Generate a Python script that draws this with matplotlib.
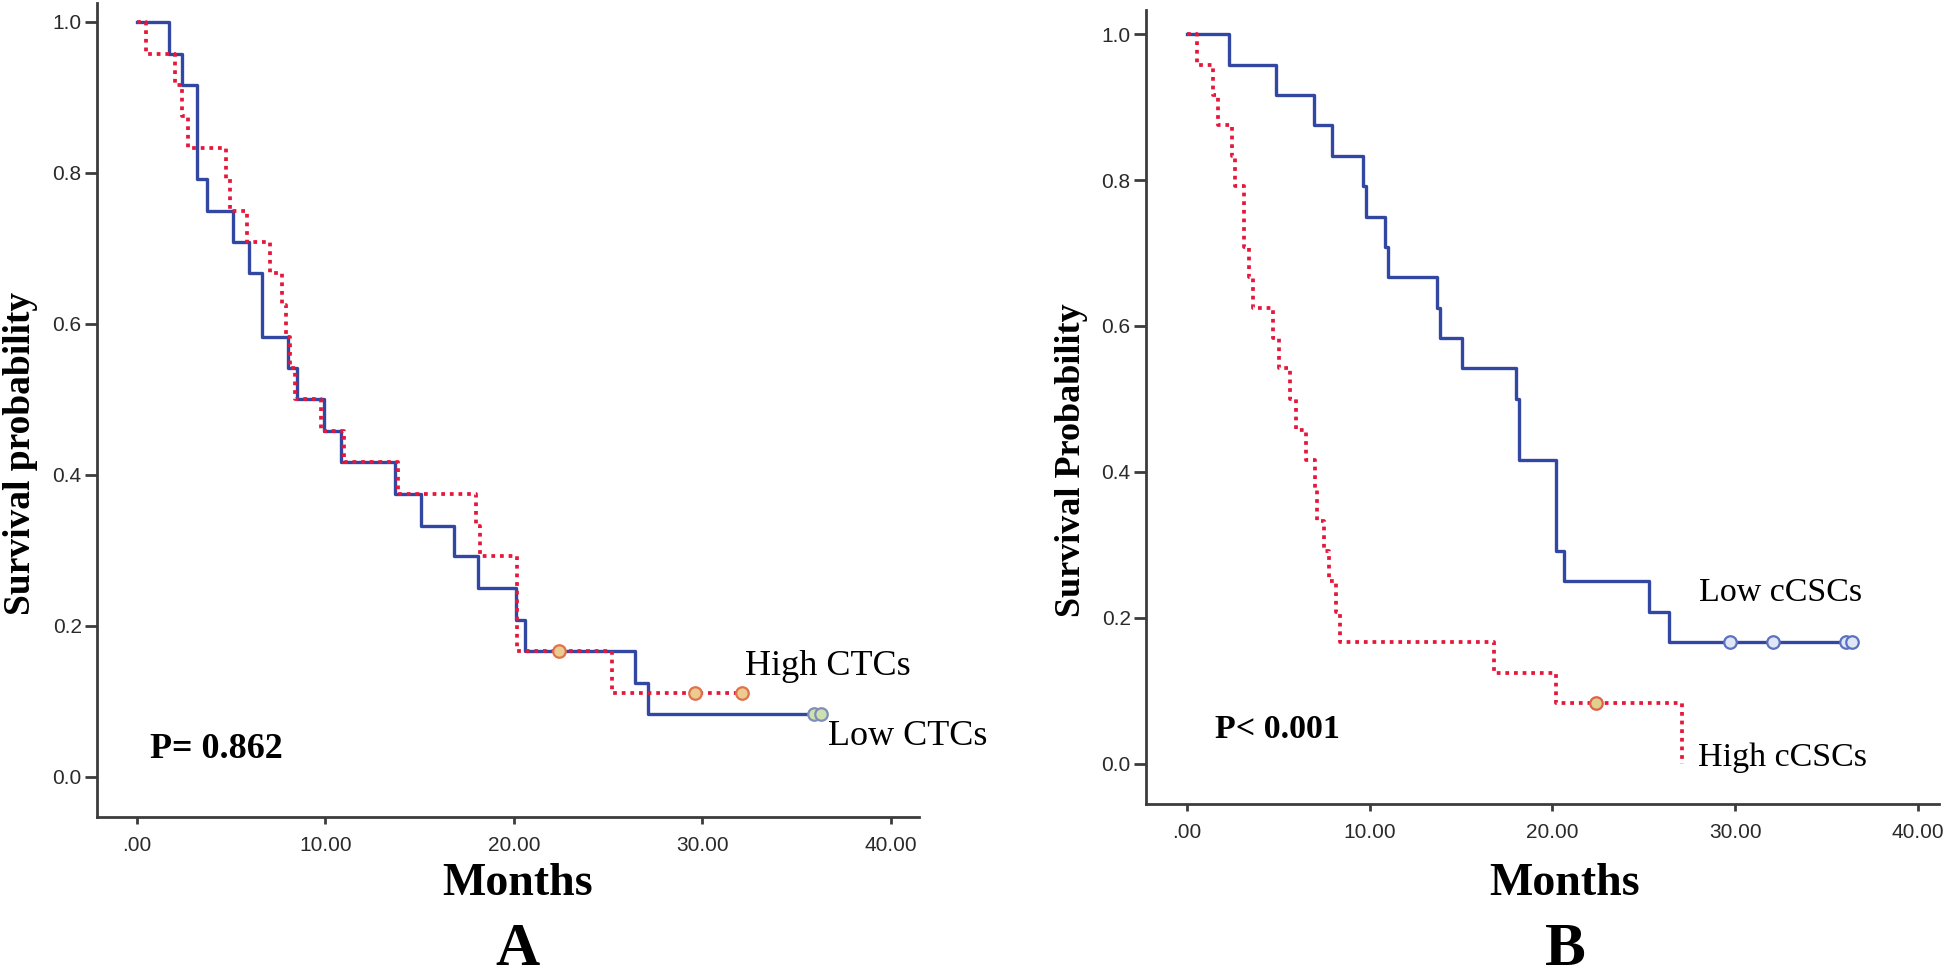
import numpy as np
import matplotlib.pyplot as plt

# Panel A - CTCs
a_low_t = [0, 1.7, 2.4, 3.2, 3.7, 5.1, 5.95, 6.65, 8.0, 8.5, 9.9, 10.8, 13.7,
           15.05, 16.8, 18.1, 20.1, 20.6, 26.4, 27.1, 36.3]
a_low_s = [1.0, 0.958, 0.917, 0.792, 0.75, 0.708, 0.667, 0.583, 0.542, 0.5,
           0.458, 0.417, 0.375, 0.333, 0.292, 0.25, 0.208, 0.167, 0.125, 0.083, 0.083]
a_low_cens_t = [35.9, 36.3]
a_low_cens_s = [0.083, 0.083]

a_high_t = [0, 0.5, 2.0, 2.4, 2.7, 4.75, 4.93, 5.82, 7.05, 7.7, 7.9, 8.1, 8.36,
            9.77, 11.0, 13.85, 18.0, 18.2, 20.16, 25.2, 32.1]
a_high_s = [1.0, 0.958, 0.917, 0.875, 0.833, 0.792, 0.75, 0.708, 0.667, 0.625,
            0.583, 0.542, 0.5, 0.458, 0.417, 0.375, 0.333, 0.292, 0.167, 0.111, 0.111]
a_high_cens_t = [22.4, 29.6, 32.1]
a_high_cens_s = [0.167, 0.111, 0.111]

# Panel B - cCSCs
b_low_t = [0, 2.3, 4.87, 6.97, 7.95, 9.65, 9.78, 10.84, 11.0, 13.7, 13.85,
           15.05, 18.0, 18.17, 20.2, 20.65, 25.3, 26.4, 36.4]
b_low_s = [1.0, 0.958, 0.917, 0.875, 0.833, 0.792, 0.75, 0.708, 0.667, 0.625,
           0.583, 0.542, 0.5, 0.417, 0.292, 0.25, 0.208, 0.167, 0.167]
b_low_cens_t = [29.7, 32.1, 36.05, 36.4]
b_low_cens_s = [0.167, 0.167, 0.167, 0.167]

b_high_t = [0, 0.56, 1.42, 1.7, 2.45, 2.65, 3.1, 3.12, 3.37, 3.62, 4.7, 5.05,
            5.64, 5.97, 6.5, 7.0, 7.1, 7.5, 7.8, 8.15, 8.4, 16.83, 20.2, 27.1]
b_high_s = [1.0, 0.958, 0.917, 0.875, 0.833, 0.792, 0.75, 0.708, 0.667, 0.625,
            0.583, 0.542, 0.5, 0.458, 0.417, 0.375, 0.333, 0.292, 0.25, 0.208,
            0.167, 0.125, 0.083, 0.0]
b_high_cens_t = [22.4]
b_high_cens_s = [0.083]

x_ticks = [0, 10, 20, 30, 40]
x_labels = [".00", "10.00", "20.00", "30.00", "40.00"]
y_ticks = [0.0, 0.2, 0.4, 0.6, 0.8, 1.0]
y_labels = ["0.0", "0.2", "0.4", "0.6", "0.8", "1.0"]

BLUE = "#3247a2"
RED = "#e5173b"
SERIF = "Liberation Serif"
SANS = "Liberation Sans"

W, H = 1946, 980
fig = plt.figure(figsize=(W / 100, H / 100), dpi=100)


def make_axes(left, top, right, bottom):
	return fig.add_axes([left / W, 1 - bottom / H, (right - left) / W, (bottom - top) / H])


def style_axes(ax):
	for s in ["top", "right"]:
		ax.spines[s].set_visible(False)
	for s in ["left", "bottom"]:
		ax.spines[s].set_color("#3c3c3c")
		ax.spines[s].set_linewidth(2.0)
	ax.set_xticks(x_ticks)
	ax.set_xticklabels(x_labels, family=SANS, fontsize=15, color="#2a2a2a")
	ax.set_yticks(y_ticks)
	ax.set_yticklabels(y_labels, family=SANS, fontsize=15, color="#2a2a2a")
	ax.tick_params(axis="x", length=5, width=2, color="#3c3c3c", pad=9)
	ax.tick_params(axis="y", length=9, width=2, color="#3c3c3c", pad=2)


def km(ax, t, s, ct, cs, color, dotted, face, edge):
	if dotted:
		ax.plot(t, s, drawstyle="steps-post", color=color, lw=2.7,
				linestyle=(0, (1, 1.3)), zorder=3)
	else:
		ax.plot(t, s, drawstyle="steps-post", color=color, lw=2.4, zorder=2)
	ax.plot(ct, cs, "o", ms=9, mfc=face, mec=edge, mew=1.6, zorder=4)


# Panel A
axA = make_axes(97, 3, 919, 817)
axA.set_xlim(-2.12, 41.49)
axA.set_ylim(-0.053, 1.025)
km(axA, a_low_t, a_low_s, a_low_cens_t, a_low_cens_s, BLUE, False, "#cfe0b0", "#7f8db8")
km(axA, a_high_t, a_high_s, a_high_cens_t, a_high_cens_s, RED, True, "#ebcb90", "#e2704a")
style_axes(axA)
axA.text(0.69, 0.036, "P= 0.862", family=SERIF, fontweight="bold", fontsize=26, va="center")
axA.text(32.25, 0.146, "High CTCs", family=SERIF, fontsize=26, va="center")
axA.text(36.66, 0.053, "Low CTCs", family=SERIF, fontsize=26, va="center")

# Panel B
axB = make_axes(1146, 10, 1939, 804)
axB.set_xlim(-2.24, 41.16)
axB.set_ylim(-0.055, 1.033)
km(axB, b_low_t, b_low_s, b_low_cens_t, b_low_cens_s, BLUE, False, "#dfe6f5", "#5a70c0")
km(axB, b_high_t, b_high_s, b_high_cens_t, b_high_cens_s, RED, True, "#dcd28e", "#e2604a")
style_axes(axB)
axB.text(1.53, 0.047, "P< 0.001", family=SERIF, fontweight="bold", fontsize=24.5, va="center")
axB.text(28.0, 0.234, "Low cCSCs", family=SERIF, fontsize=24.5, va="center")
axB.text(27.97, 0.008, "High cCSCs", family=SERIF, fontsize=24.5, va="center")

# y labels, Months and panel letters
fig.text(21 / W, 1 - 453 / H, "Survival probability", family=SERIF, fontweight="bold",
		 fontsize=27, rotation=90, ha="center", va="center")
fig.text(1071 / W, 1 - 460 / H, "Survival Probability", family=SERIF, fontweight="bold",
		 fontsize=26, rotation=90, ha="center", va="center")
for cx, letter in [(518, "A"), (1565, "B")]:
	fig.text(cx / W, 1 - 895 / H, "Months", family=SERIF, fontweight="bold",
			 fontsize=33, ha="center", va="baseline")
	fig.text(cx / W, 1 - 978 / H, letter, family=SERIF, fontweight="bold",
			 fontsize=44, ha="center", va="bottom")

fig.savefig("out.png", dpi=100, facecolor="white")
